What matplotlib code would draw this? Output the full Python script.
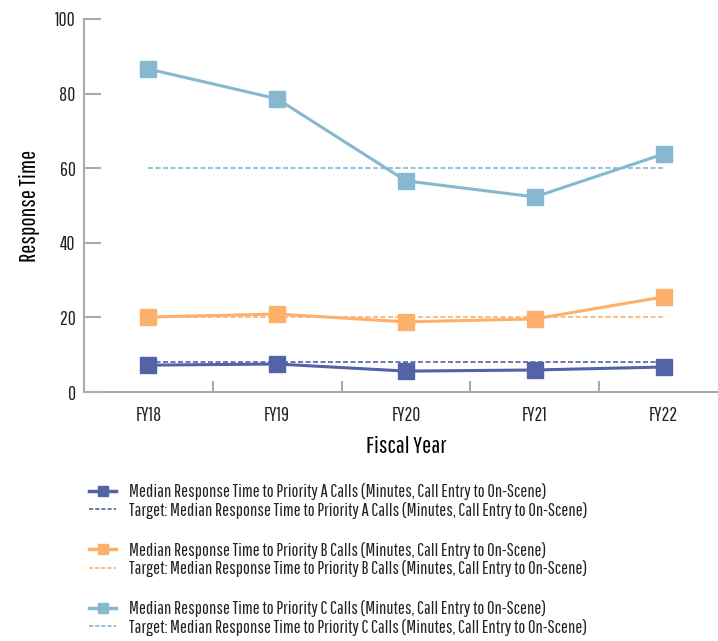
import matplotlib
matplotlib.use("Agg")
import matplotlib.pyplot as plt
from matplotlib.lines import Line2D

plt.rcParams['font.family'] = ['Pathway Gothic One', 'Roboto Condensed', 'DejaVu Sans']
plt.rcParams['text.color'] = '#222222'
plt.rcParams['xtick.color'] = '#222222'
plt.rcParams['ytick.color'] = '#222222'

years = ['FY18', 'FY19', 'FY20', 'FY21', 'FY22']
prio_a = [7.2, 7.5, 5.6, 5.9, 6.7]
prio_b = [20.1, 20.9, 18.8, 19.6, 25.5]
prio_c = [86.6, 78.6, 56.6, 52.3, 63.8]
target_a = [8, 8, 8, 8, 8]
target_b = [20, 20, 20, 20, 20]
target_c = [60, 60, 60, 60, 60]

col_a = '#5462a6'
col_b = '#fdb06c'
col_c = '#86b8d0'

labels = ['Median Response Time to Priority %s Calls (Minutes, Call Entry to On-Scene)',
          'Target: Median Response Time to Priority %s Calls (Minutes, Call Entry to On-Scene)']

fig = plt.figure(figsize=(7.18, 6.41), dpi=100)
ax = fig.add_axes([84/718, 1-392/641, 644/718, 373/641])

x = list(range(len(years)))
for vals, tgt, c in [(prio_a, target_a, col_a), (prio_b, target_b, col_b), (prio_c, target_c, col_c)]:
    ax.plot(x, tgt, color=c, lw=1.2, ls=(0, (3, 1.5)), zorder=2)
    ax.plot(x, vals, color=c, lw=2.2, marker='s', markersize=12, zorder=3)

ax.set_xlim(-0.5, 4.5)
ax.set_ylim(0, 100)
ax.set_yticks([0, 20, 40, 60, 80, 100])
ax.set_xticks(x)
ax.set_xticklabels(years)
ax.set_xticks([0.5, 1.5, 2.5, 3.5], minor=True)
ax.tick_params(axis='x', which='major', length=0, pad=10, labelsize=14)
ax.tick_params(axis='x', which='minor', length=8, direction='in', color='#aaaaaa', width=1.5)
ax.tick_params(axis='y', length=12, direction='in', color='#aaaaaa', width=1.5, labelsize=14, pad=6)
for s in ['top', 'right']:
    ax.spines[s].set_visible(False)
for s in ['left', 'bottom']:
    ax.spines[s].set_color('#aaaaaa')
    ax.spines[s].set_linewidth(1.5)
ax.set_ylabel('Response Time', fontsize=17.5, labelpad=11)
ax.set_xlabel('Fiscal Year', fontsize=17.5, labelpad=8)

handles = []
names_l = []
for i, (c, p) in enumerate([(col_a, 'A'), (col_b, 'B'), (col_c, 'C')]):
    handles.append(Line2D([], [], color=c, lw=2.5, marker='s', markersize=7))
    names_l.append(labels[0] % p)
    handles.append(Line2D([], [], color=c, lw=1.2, ls=(0, (2.5, 1.2))))
    names_l.append(labels[1] % p)
    if i < 2:
        handles.append(Line2D([], [], color='none'))
        names_l.append(' ')
leg = fig.legend(handles, names_l, loc='upper left', bbox_to_anchor=(82/718, 1-476/641),
                 frameon=False, fontsize=13.3, handlelength=1.45, handletextpad=0.7,
                 labelspacing=0.08, borderaxespad=0)
# spacer rows a bit taller, to open the gap between the groups
for t in leg.get_texts():
    if t.get_text() == ' ':
        t.set_fontsize(16)

fig.savefig('out.png', dpi=100)
